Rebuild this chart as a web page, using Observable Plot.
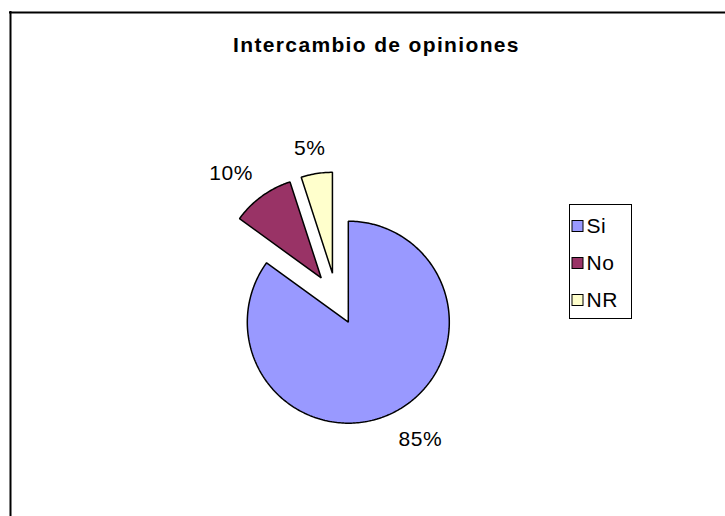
<!DOCTYPE html>
<html>
<head>
<meta charset="utf-8">
<script src="https://cdn.jsdelivr.net/npm/d3@7"></script>
<script src="https://cdn.jsdelivr.net/npm/@observablehq/plot@0.6"></script>
<style>
  html, body { margin: 0; padding: 0; background: #fff; }
  svg { display: block; font-family: "Liberation Sans", Arial, sans-serif; }
</style>
</head>
<body>
<div id="chart"></div>
<script>
// ---- data ----
const categories = ["Si", "No", "NR"];
const values = [85, 10, 5];
const labels = ["85%", "10%", "5%"];
const colors = ["#9999FF", "#993366", "#FFFFCC"];
const title = "Intercambio de opiniones";

// ---- layout ----
const W = 725, H = 516;
const C = {x: 336, y: 298.5};
const R = 101, EXPLODE = 26;
const FONT = 21;

const arcs = d3.pie().sort(null).value(d => d)(values);

const slicePts = [];
const labelData = [];
arcs.forEach((a, i) => {
  const mid = (a.startAngle + a.endAngle) / 2;
  const cx = C.x + EXPLODE * Math.sin(mid);
  const cy = C.y - EXPLODE * Math.cos(mid);
  slicePts.push({cat: categories[i], x: cx, y: cy});
  const n = Math.max(4, Math.ceil((a.endAngle - a.startAngle) / (Math.PI / 180)));
  for (let k = 0; k <= n; k++) {
    const t = a.startAngle + (a.endAngle - a.startAngle) * k / n;
    slicePts.push({cat: categories[i], x: cx + R * Math.sin(t), y: cy - R * Math.cos(t)});
  }
  const s = Math.sin(mid), c = Math.cos(mid);
  const px = cx + (R + 12) * s, py = cy - (R + 12) * c;
  labelData.push({
    text: labels[i],
    x: s > 0.3 ? px - 1 : s < -0.3 ? px - 2 : px - 5,
    y: c > 0 ? py - 7 : py + 8,
    anchor: s > 0.3 ? "start" : s < -0.3 ? "end" : "middle",
    line: c > 0 ? "bottom" : "top"
  });
});

// legend
const LG = {x1: 569.5, x2: 631.5, y1: 204.5, y2: 318.5};
const legendData = categories.map((c, i) => ({cat: c, yc: 226 + i * 37}));

const labelMarks = labelData.map(d =>
  Plot.text([d], {x: "x", y: "y", text: "text", fontSize: FONT, fill: "black",
    textAnchor: d.anchor, lineAnchor: d.line}));

const plot = Plot.plot({
  width: W, height: H,
  margin: 0,
  x: {domain: [0, W], range: [0, W], axis: null},
  y: {domain: [0, H], range: [0, H], axis: null},
  color: {domain: categories, range: colors},
  style: {background: "#fff", fontFamily: "'Liberation Sans', Arial, sans-serif"},
  marks: [
    // chart border
    Plot.ruleX([10], {y1: 11, y2: H, stroke: "black", strokeWidth: 2}),
    Plot.ruleY([12], {x1: 9, x2: W, stroke: "black", strokeWidth: 2}),
    // title
    Plot.text([title], {x: 376, y: 51, text: d => d, fontSize: FONT, fontWeight: "bold",
      lineAnchor: "bottom", textAnchor: "middle", fill: "black"}),
    // slices
    Plot.line(slicePts, {x: "x", y: "y", z: "cat", fill: "cat", stroke: "black",
      strokeWidth: 1.5, curve: "linear-closed", strokeLinejoin: "miter"}),
    // data labels
    ...labelMarks,
    // legend box
    Plot.rect([LG], {x1: "x1", x2: "x2", y1: "y1", y2: "y2", fill: "white", stroke: "black", strokeWidth: 1}),
    Plot.rect(legendData, {x1: 572, x2: 583, y1: d => d.yc - 5.5, y2: d => d.yc + 5.5,
      fill: "cat", stroke: "black", strokeWidth: 1}),
    Plot.text(legendData, {x: 586, y: d => d.yc + 6.5, text: "cat", fontSize: FONT,
      textAnchor: "start", lineAnchor: "bottom", fill: "black"})
  ]
});
d3.select(plot).selectAll("text").each(function() {
  const t = this.textContent;
  if (t === title) this.style.letterSpacing = "1.35px";
  else if (labels.includes(t) || categories.includes(t)) this.style.letterSpacing = "0.5px";
});
document.getElementById("chart").appendChild(plot);
</script>
</body>
</html>
